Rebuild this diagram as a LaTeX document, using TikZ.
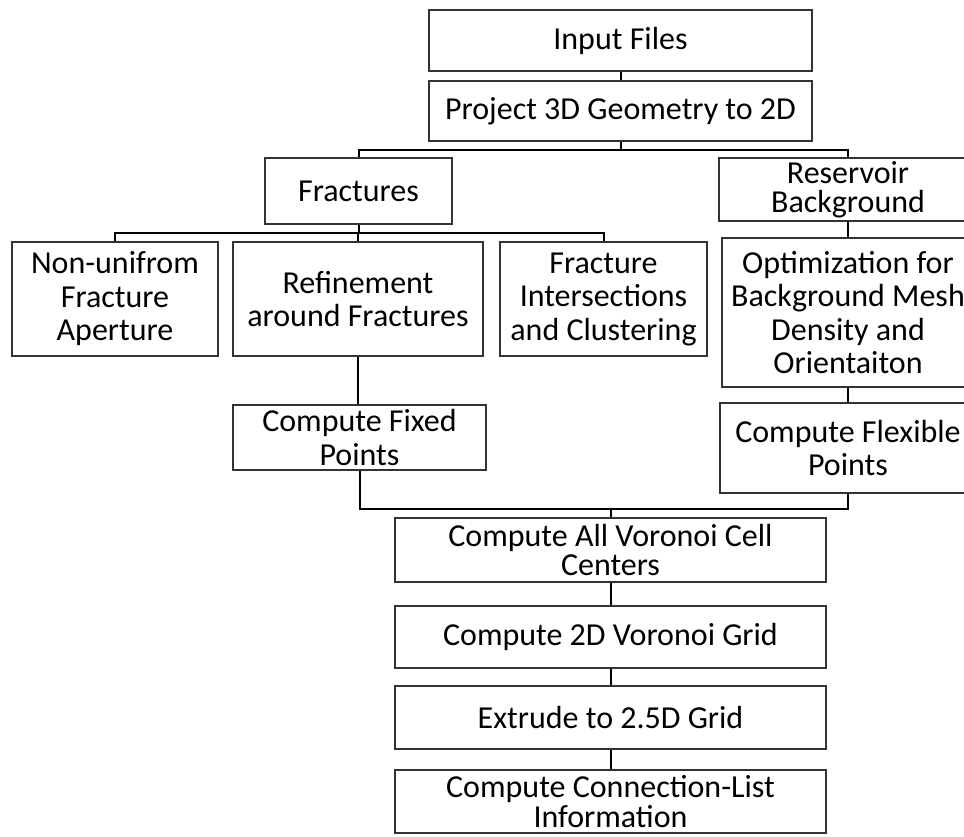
\documentclass[tikz,border=0pt]{standalone}
\usepackage{fontspec}
\setmainfont{Carlito}
\begin{document}
\begin{tikzpicture}[x=1pt,y=-1pt,
  box/.style={draw=black!80, line width=2.5pt, rectangle, inner sep=0pt, align=center, font=\fontsize{32}{33.5}\selectfont},
  tight/.style={font=\fontsize{32}{29.5}\selectfont},
  conn/.style={draw=black, line width=2pt}]
\useasboundingbox (0,0) rectangle (964,836);
\clip (0,0) rectangle (964,836);
\node[box, minimum width=383pt, minimum height=61pt] (input) at (620.5,40.5) {Input Files};
\node[box, minimum width=383pt, minimum height=60pt] (project) at (620.5,111) {Project 3D Geometry to 2D};
\node[box, minimum width=187pt, minimum height=66pt] (frac) at (358.5,191) {Fractures};
\node[box, tight, minimum width=258pt, minimum height=63pt] (res) at (848,189.5) {Reservoir\\Background};
\node[box, minimum width=206pt, minimum height=114pt] (nonu) at (115,299) {Non-unifrom\\Fracture\\Aperture};
\node[box, minimum width=250pt, minimum height=114pt] (refine) at (358,299) {Refinement\\around Fractures};
\node[box, minimum width=207pt, minimum height=114pt] (fint) at (603.5,299) {Fracture\\Intersections\\and Clustering};
\node[box, minimum width=252pt, minimum height=149pt] (optim) at (848,312.5) {Optimization for\\Background Mesh\\Density and\\Orientaiton};
\node[box, minimum width=256pt, minimum height=90pt] (flex) at (848,448) {Compute Flexible\\Points};
\node[box, minimum width=253pt, minimum height=65pt] (fixed) at (359.5,437.5) {Compute Fixed\\Points};
\node[box, tight, minimum width=431pt, minimum height=64pt] (cca) at (610.5,550) {Compute All Voronoi Cell\\Centers};
\node[box, minimum width=431pt, minimum height=62pt] (vor) at (610.5,637) {Compute 2D Voronoi Grid};
\node[box, minimum width=431pt, minimum height=63pt] (extr) at (610.5,717.5) {Extrude to 2.5D Grid};
\node[box, tight, minimum width=431pt, minimum height=63pt] (clist) at (610.5,801.5) {Compute Connection-List\\Information};
\coordinate (jn) at (610.5,509);
\draw[conn] (input.south) -- (project.north);
\draw[conn] (project.south) -- ++(0,8) -| (frac.north);
\draw[conn] (project.south) -- ++(0,8) -| (res.north);
\draw[conn] (frac.south) -- ++(0,8) -| (nonu.north);
\draw[conn] (frac.south) -- ++(0,8) -| (refine.north);
\draw[conn] (frac.south) -- ++(0,8) -| (fint.north);
\draw[conn] (res.south) -- (optim.north);
\draw[conn] (optim.south) -- (flex.north);
\draw[conn] (refine.south) -- (refine.south |- fixed.north);
\draw[conn] (fixed.south) |- (jn) -| (flex.south);
\draw[conn] (jn) -- (cca.north);
\draw[conn] (cca.south) -- (vor.north);
\draw[conn] (vor.south) -- (extr.north);
\draw[conn] (extr.south) -- (clist.north);
\end{tikzpicture}
\end{document}
